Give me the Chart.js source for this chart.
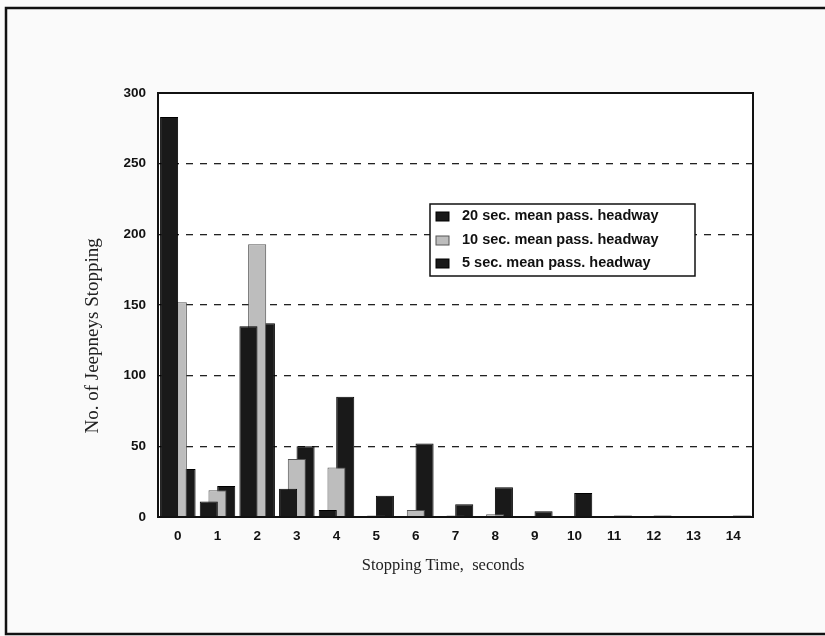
<!DOCTYPE html>
<html>
<head>
<meta charset="utf-8">
<script src="https://cdn.jsdelivr.net/npm/chart.js@4.4.0/dist/chart.umd.min.js"></script>
<style>
    body { margin: 0; background: #fafafa; }
    #wrap { position: relative; width: 825px; height: 636px; }
</style>
</head>
<body>
<div id="wrap"><canvas id="chartStops" width="825" height="636"></canvas></div>
<script>
const STOP_TIMES = ['0', '1', '2', '3', '4', '5', '6', '7', '8', '9', '10', '11', '12', '13', '14'];
const HEADWAY_20 = [283, 11, 135, 20, 5, 0, 0, 0, 0, 0, 0, 0, 0, 0, 0];
const HEADWAY_10 = [152, 19, 193, 41, 35, 1, 5, 1, 2, 0, 0, 0, 0, 0, 0];
const HEADWAY_5  = [34, 22, 137, 50, 85, 15, 52, 9, 21, 4, 17, 1, 1, 0, 1];
const SERIES_LABELS = ['20 sec. mean pass. headway', '10 sec. mean pass. headway', '5 sec. mean pass. headway'];
const Y_TICKS = [0, 50, 100, 150, 200, 250, 300];

const DARK = '#191919';
const GREY = '#bdbdbd';
const TICK_FONT = { family: '"Liberation Sans", Arial, sans-serif', size: 13.5, weight: 'bold' };

// page frame, plot frame and the boxed legend
const framePlugin = {
    id: 'frames',
    beforeDraw(chart) {
        const ctx = chart.ctx;
        ctx.save();
        ctx.fillStyle = '#fafafa';
        ctx.fillRect(0, 0, chart.width, chart.height);
        const a = chart.chartArea;
        ctx.fillStyle = '#ffffff';
        ctx.fillRect(a.left, a.top, a.right - a.left, a.bottom - a.top);
        ctx.strokeStyle = '#111';
        ctx.lineWidth = 2.5;
        ctx.strokeRect(6, 8, chart.width + 20, chart.height - 10);
        ctx.restore();
    },
    afterDraw(chart) {
        const ctx = chart.ctx;
        const a = chart.chartArea;
        ctx.save();
        ctx.strokeStyle = '#111';
        ctx.lineWidth = 2;
        ctx.strokeRect(a.left, a.top, a.right - a.left, a.bottom - a.top);

        // legend
        const bx = 430, by = 204, bw = 265, bh = 72;
        ctx.fillStyle = '#ffffff';
        ctx.fillRect(bx, by, bw, bh);
        ctx.lineWidth = 1.5;
        ctx.strokeRect(bx, by, bw, bh);
        const rows = [216, 240, 263];
        ctx.font = 'bold 14.5px "Liberation Sans", Arial, sans-serif';
        ctx.textBaseline = 'middle';
        chart.data.datasets.forEach((ds, i) => {
            ctx.fillStyle = ds.backgroundColor;
            ctx.fillRect(bx + 6, rows[i] - 4, 13, 9);
            ctx.strokeStyle = ds.borderColor;
            ctx.lineWidth = 1;
            ctx.strokeRect(bx + 6, rows[i] - 4, 13, 9);
            ctx.fillStyle = '#111';
            ctx.fillText(ds.label, bx + 32, rows[i]);
        });
        ctx.restore();
    }
};

new Chart(document.getElementById('chartStops'), {
    type: 'bar',
    data: {
        labels: STOP_TIMES,
        datasets: [
            { label: SERIES_LABELS[0], data: HEADWAY_20, backgroundColor: DARK, borderColor: '#000', borderWidth: 1 },
            { label: SERIES_LABELS[1], data: HEADWAY_10, backgroundColor: GREY, borderColor: '#555', borderWidth: 1 },
            { label: SERIES_LABELS[2], data: HEADWAY_5,  backgroundColor: DARK, borderColor: '#000', borderWidth: 1 }
        ]
    },
    options: {
        responsive: false,
        animation: false,
        categoryPercentage: 0.66,
        barPercentage: 2.07,
        layout: { padding: { left: 80, top: 93, right: 72, bottom: 60 } },
        plugins: {
            legend: { display: false },
            tooltip: { enabled: false }
        },
        scales: {
            x: {
                grid: { display: false, drawTicks: false },
                border: { display: false },
                ticks: { padding: 11, color: '#111', font: TICK_FONT },
                title: {
                    display: true,
                    text: 'Stopping Time,  seconds      ',
                    color: '#222',
                    padding: { top: 0, bottom: 0 },
                    font: { family: '"Liberation Serif", "Times New Roman", serif', size: 16.5 }
                },
                afterFit(scale) { scale.height = 59; }
            },
            y: {
                min: 0,
                max: 300,
                afterBuildTicks(scale) { scale.ticks = Y_TICKS.map(v => ({ value: v })); },
                grid: {
                    drawTicks: false,
                    lineWidth: 1.3,
                    color: ctx => (ctx.tick && (ctx.tick.value === 0 || ctx.tick.value === 300)) ? 'rgba(0,0,0,0)' : '#222'
                },
                border: { display: false, dash: [7, 7] },
                ticks: { padding: 12, color: '#111', font: TICK_FONT },
                title: {
                    display: true,
                    text: 'No. of Jeepneys Stopping             ',
                    color: '#222',
                    padding: { top: 2, bottom: 0 },
                    font: { family: '"Liberation Serif", "Times New Roman", serif', size: 19 }
                },
                afterFit(scale) { scale.width = 78; }
            }
        }
    },
    plugins: [framePlugin]
});
</script>
</body>
</html>
